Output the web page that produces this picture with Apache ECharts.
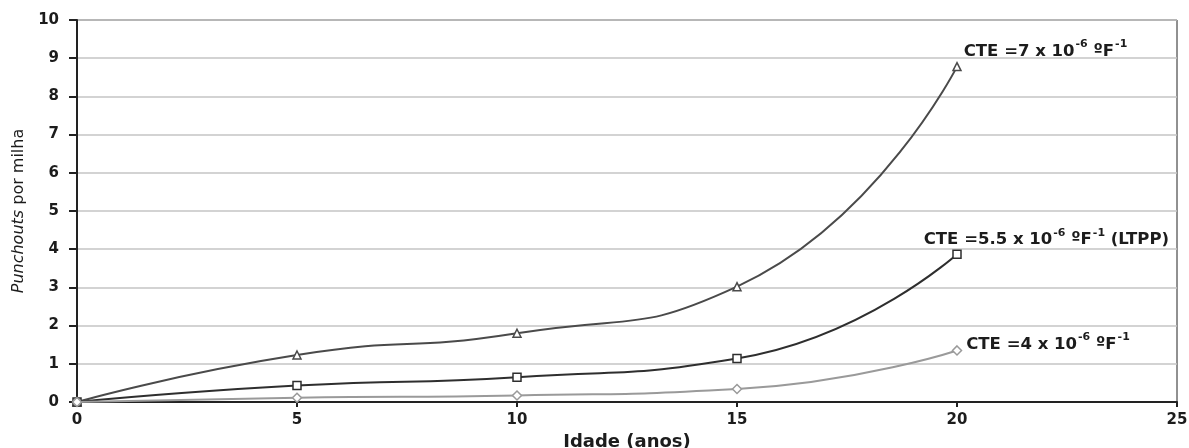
<!DOCTYPE html>
<html>
<head>
<meta charset="utf-8">
<script src="https://cdn.jsdelivr.net/npm/echarts@6/dist/echarts.min.js"></script>
<style>
  html, body { margin: 0; padding: 0; background: #fff; }
  #chart { width: 1189px; height: 448px; }
</style>
</head>
<body>
<div id="chart"></div>
<script>
// Idade do pavimento (anos)
const ages = [0, 5, 10, 15, 20];
// Punchouts por milha para cada coeficiente de expansão térmica
const cte7 = [0, 1.23, 1.80, 3.02, 8.78];
const cte55 = [0, 0.43, 0.65, 1.14, 3.87];
const cte4 = [0, 0.11, 0.17, 0.34, 1.35];

const labelCte7 = '{b|CTE =7 x 10}{s|-6}{b| ºF}{s|-1}';
const labelCte55 = '{b|CTE =5.5 x 10}{s|-6}{b| ºF}{s|-1}{b| (LTPP)}';
const labelCte4 = '{b|CTE =4 x 10}{s|-6}{b| ºF}{s|-1}';

const font = 'DejaVu Sans, Verdana, sans-serif';
const ink = '#1c1c1c';
const richText = {
  b: { fontFamily: font, fontWeight: 'bold', fontSize: 16.5, color: ink, lineHeight: 21, verticalAlign: 'bottom' },
  s: { fontFamily: font, fontWeight: 'bold', fontSize: 11, color: ink, lineHeight: 21, verticalAlign: 'top', padding: [0, 0, 0, 1] }
};

function pairs(values) {
  return values.map((v, i) => [ages[i], v]);
}

function endLabel(values, text, offset) {
  const data = pairs(values);
  const last = data.length - 1;
  data[last] = {
    value: data[last],
    label: {
      show: true,
      position: 'right',
      distance: 2,
      offset: offset,
      formatter: text,
      rich: richText
    }
  };
  return data;
}

function curve(name, values, color, symbol, size, text, offset) {
  return {
    name: name,
    type: 'line',
    smooth: 0.55,
    data: endLabel(values, text, offset),
    symbol: symbol,
    symbolSize: size,
    lineStyle: { color: color, width: 2 },
    itemStyle: { color: '#fff', borderColor: color, borderWidth: 1.5 },
    emphasis: { disabled: true },
    z: 3
  };
}

const chart = echarts.init(document.getElementById('chart'), null, { renderer: 'canvas' });
chart.setOption({
  animation: false,
  backgroundColor: '#fff',
  grid: {
    left: 77, right: 12, top: 20, bottom: 46,
    outerBoundsMode: 'none',
    containLabel: false,
    show: true, borderColor: '#222', borderWidth: 1
  },
  xAxis: {
    type: 'value',
    min: 0, max: 25, interval: 5,
    name: 'Idade (anos)',
    nameLocation: 'middle',
    nameGap: 30,
    nameTextStyle: { fontFamily: font, fontWeight: 'bold', fontSize: 18, color: ink },
    axisLine: { onZero: false, lineStyle: { color: '#222', width: 2 } },
    axisTick: { show: true, length: 5, lineStyle: { color: '#222', width: 2 } },
    axisLabel: { margin: 11, fontFamily: font, fontWeight: 'bold', fontSize: 15, color: ink },
    splitLine: { show: false }
  },
  yAxis: {
    type: 'value',
    min: 0, max: 10, interval: 1,
    name: '{i|Punchouts}{n| por milha}',
    nameLocation: 'middle',
    nameGap: 43,
    nameTextStyle: {
      rich: {
        i: { fontFamily: font, fontStyle: 'italic', fontSize: 16, color: ink },
        n: { fontFamily: font, fontSize: 16, color: ink }
      }
    },
    axisLine: { show: true, onZero: false, lineStyle: { color: '#222', width: 2 } },
    axisTick: { show: true, length: 8, lineStyle: { color: '#222', width: 2 } },
    axisLabel: { margin: 18, fontFamily: font, fontWeight: 'bold', fontSize: 15, color: ink },
    splitLine: { show: true, lineStyle: { color: '#c4c4c4', width: 1.5 } }
  },
  series: [
    curve('CTE 7', cte7, '#4a4a4a', 'triangle', 8, labelCte7, [0, -17]),
    curve('CTE 5.5', cte55, '#2e2e2e', 'rect', 8, labelCte55, [-40, -16]),
    curve('CTE 4', cte4, '#9a9a9a', 'diamond', 9, labelCte4, [2, -8])
  ]
});
</script>
</body>
</html>
